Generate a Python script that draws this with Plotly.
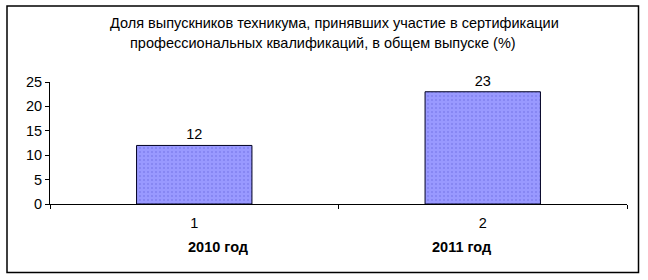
import plotly.graph_objects as go

categories = ["1", "2"]
values = [12, 23]
year_labels = ["2010 год", "2011 год"]
title_lines = ["Доля выпускников техникума, принявших участие в сертификации",
               "профессиональных квалификаций, в общем выпуске (%)"]

FONT = "Liberation Sans, Arial, sans-serif"
FS = 14.5

fig = go.Figure()
fig.add_trace(go.Bar(
    x=categories, y=values, width=0.4,
    text=[str(v) for v in values], textposition="outside",
    textfont=dict(family=FONT, size=FS, color="black"),
    cliponaxis=False,
    marker=dict(
        color="#9999FF",
        line=dict(color="#000022", width=1),
        pattern=dict(shape=".", fgcolor="#6a6ae0", bgcolor="#9999FF", size=4, solidity=0.2),
    ),
    showlegend=False,
))

L, R, T, B = 50, 21, 82, 76
W, H = 648, 280
pw = W - L - R
ph = H - T - B

def px_to_paper_x(px):
    return (px - L) / pw

def px_to_paper_y(py):
    return (H - B - py) / ph

fig.update_layout(
    width=W, height=H,
    margin=dict(l=L, r=R, t=T, b=B, pad=0),
    paper_bgcolor="white", plot_bgcolor="white",
    font=dict(family=FONT, size=FS, color="black"),
    bargap=0.6,
)
fig.update_xaxes(
    type="category", tickson="boundaries", ticks="outside", ticklen=4,
    tickcolor="black", showline=True, linecolor="black", linewidth=1,
    showgrid=False, tickfont=dict(family=FONT, size=FS, color="black"),
    zeroline=False, ticklabelstandoff=6,
)
fig.update_yaxes(
    range=[0, 25], dtick=5, ticks="outside", ticklen=4, tickcolor="black",
    showline=True, linecolor="black", linewidth=1, showgrid=False,
    zeroline=False, tickfont=dict(family=FONT, size=FS, color="black"),
)

for line, cx, cy in zip(title_lines, [334, 323], [23.5, 42.5]):
    fig.add_annotation(
        text=line, x=px_to_paper_x(cx), y=px_to_paper_y(cy),
        xref="paper", yref="paper", showarrow=False,
        font=dict(family=FONT, size=FS, color="black"),
        xanchor="center", yanchor="middle",
    )

for lbl, cx in zip(year_labels, [218, 461]):
    fig.add_annotation(
        text="<b>" + lbl + "</b>", x=px_to_paper_x(cx), y=px_to_paper_y(247),
        xref="paper", yref="paper", showarrow=False,
        font=dict(family=FONT, size=FS, color="black"),
        xanchor="center", yanchor="middle",
    )

fig.add_shape(
    type="rect", xref="paper", yref="paper",
    x0=px_to_paper_x(7), x1=px_to_paper_x(638.5),
    y0=px_to_paper_y(272.5), y1=px_to_paper_y(6),
    line=dict(color="black", width=1.5), fillcolor="rgba(0,0,0,0)",
    layer="below",
)

fig.write_html("out.html")
